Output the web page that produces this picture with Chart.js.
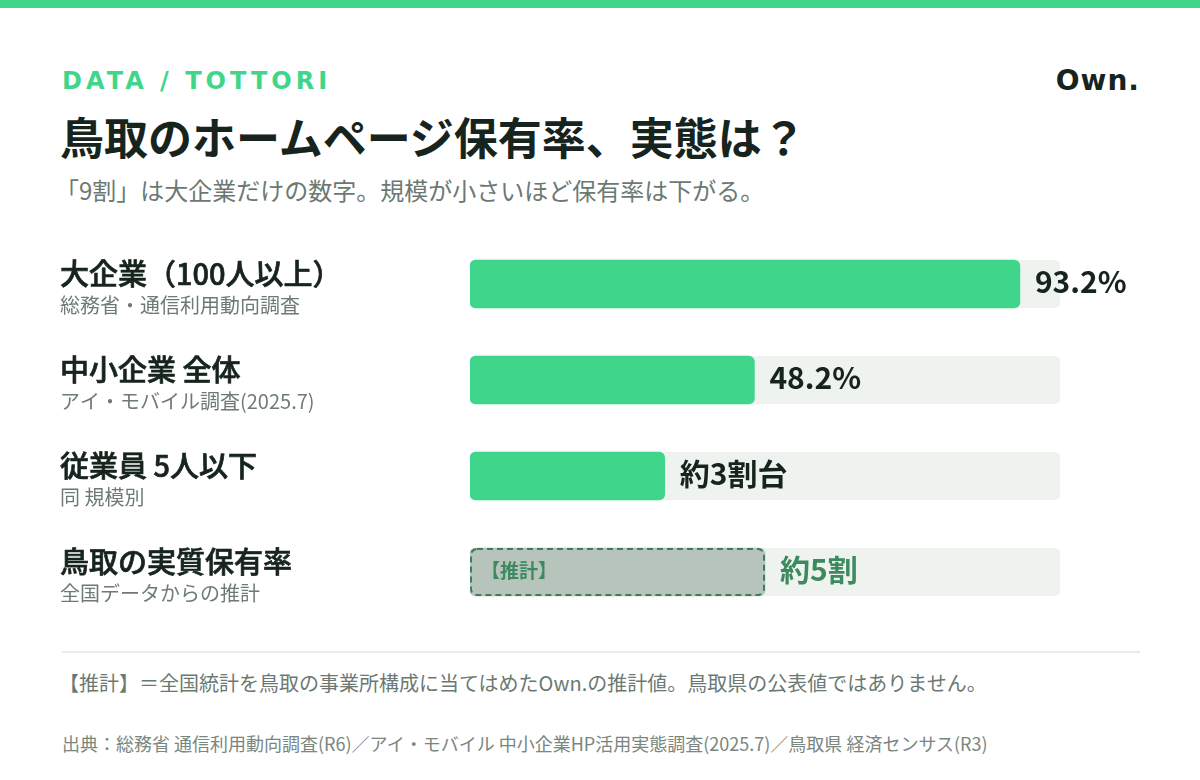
<!DOCTYPE html>
<html lang="ja">
<head>
<meta charset="utf-8">
<script src="https://cdn.jsdelivr.net/npm/chart.js@4.4.1/dist/chart.umd.min.js"></script>
<style>
  html, body { margin: 0; padding: 0; background: #fff; }
  body { width: 1200px; height: 780px; position: relative; overflow: hidden;
         font-family: "Noto Sans CJK JP", "Noto Sans", sans-serif; color: #17241d; }
  .topbar { position: absolute; left: 0; top: 0; width: 1200px; height: 8px; background: #3fd68b; }
  .kicker { position: absolute; left: 62px; top: 66px; font-family: "DejaVu Sans", sans-serif;
            font-weight: bold; font-size: 24px; letter-spacing: 4px; color: #3fd68b; line-height: 30px; }
  .brand { position: absolute; right: 60px; top: 64px; font-family: "DejaVu Sans", sans-serif;
           font-weight: bold; font-size: 28px; letter-spacing: 1px; color: #17241d; line-height: 34px; }
  h1 { position: absolute; left: 60px; top: 107px; margin: 0; font-size: 44px; font-weight: bold;
       line-height: 58px; color: #17241d; }
  .sub { position: absolute; left: 55px; top: 175px; margin: 0; font-size: 24px; line-height: 30px; color: #6b7972; }
  #wrap { position: absolute; left: 0; top: 220px; width: 1200px; height: 420px; }
  .rule { position: absolute; left: 62px; top: 651px; width: 1078px; height: 2px; background: #e8edea; }
  .note { position: absolute; left: 59px; top: 669px; font-size: 20px; line-height: 28px; color: #6b7972; }
  .src { position: absolute; left: 62px; top: 730px; font-size: 18px; line-height: 26px; color: #7a8680; }
</style>
</head>
<body>
<div class="topbar"></div>
<div class="kicker">DATA / TOTTORI</div>
<div class="brand">Own.</div>
<h1>鳥取のホームページ保有率、実態は？</h1>
<p class="sub">「9割」は大企業だけの数字。規模が小さいほど保有率は下がる。</p>
<div id="wrap"><canvas id="chart"></canvas></div>
<div class="rule"></div>
<div class="note">【推計】＝全国統計を鳥取の事業所構成に当てはめたOwn.の推計値。鳥取県の公表値ではありません。</div>
<div class="src">出典：総務省 通信利用動向調査(R6)／アイ・モバイル 中小企業HP活用実態調査(2025.7)／鳥取県 経済センサス(R3)</div>

<script>
// ---- data ----
const categories = ['大企業（100人以上）', '中小企業 全体', '従業員 5人以下', '鳥取の実質保有率'];
const sources = ['総務省・通信利用動向調査', 'アイ・モバイル調査(2025.7)', '同 規模別', '全国データからの推計'];
const rates = [93.2, 48.2, 33, 50];
const rateLabels = ['93.2%', '48.2%', '約3割台', '約5割'];
const estimated = [false, false, false, true];
const fullScale = [100, 100, 100, 100];
const estimateTag = '【推計】';

const FONT = '"Noto Sans CJK JP", "Noto Sans", sans-serif';
const MEDIUM = '"Noto Sans CJK JP Medium", "Noto Sans CJK JP", sans-serif';
const GREEN = '#3fd68b';
const TRACK = '#eef3f0';
const EST_FILL = '#b6c4bc';
const EST_LINE = '#3f7d5c';
const EST_TEXT = '#3d8a5f';
const DARK = '#17241d';
const GREY = '#6e7b74';

// labels, value text and the dashed estimate outline
const decorate = {
  id: 'decorate',
  afterDatasetsDraw(chart) {
    const ctx = chart.ctx;
    const meta = chart.getDatasetMeta(1);
    const yScale = chart.scales.y;
    ctx.save();
    meta.data.forEach((bar, i) => {
      const cy = yScale.getPixelForValue(i);

      // category + source on the left (thin stroke fakes the medium weight)
      ctx.textAlign = 'left';
      ctx.textBaseline = 'middle';
      ctx.fillStyle = DARK;
      ctx.strokeStyle = DARK;
      ctx.lineWidth = 0.7;
      ctx.font = '500 29px ' + MEDIUM;
      ctx.fillText(categories[i], 60, cy - 10);
      ctx.strokeText(categories[i], 60, cy - 10);
      ctx.fillStyle = GREY;
      ctx.font = '20px ' + FONT;
      ctx.fillText(sources[i], 60, cy + 21);

      const left = bar.base, right = bar.x;
      const top = bar.y - bar.height / 2;

      if (estimated[i]) {
        ctx.setLineDash([6, 4]);
        ctx.lineWidth = 2;
        ctx.strokeStyle = EST_LINE;
        ctx.beginPath();
        ctx.roundRect(left + 1, top + 1, right - left - 2, bar.height - 2, 6);
        ctx.stroke();
        ctx.setLineDash([]);
        ctx.fillStyle = EST_TEXT;
        ctx.font = 'bold 19px ' + FONT;
        ctx.fillText(estimateTag, left + 11, cy - 1);
      }

      ctx.fillStyle = estimated[i] ? EST_TEXT : DARK;
      ctx.font = 'bold 30px ' + FONT;
      ctx.fillText(rateLabels[i], right + 15, cy - 2);
    });
    ctx.restore();
  }
};

new Chart(document.getElementById('chart'), {
  type: 'bar',
  data: {
    labels: categories,
    datasets: [
      {
        data: fullScale,
        backgroundColor: TRACK,
        borderRadius: 6,
        borderSkipped: false,
        barThickness: 48,
        grouped: false,
        order: 2
      },
      {
        data: rates,
        backgroundColor: ctx => estimated[ctx.dataIndex] ? EST_FILL : GREEN,
        borderRadius: 6,
        borderSkipped: false,
        barThickness: 48,
        grouped: false,
        order: 1
      }
    ]
  },
  options: {
    indexAxis: 'y',
    responsive: true,
    maintainAspectRatio: false,
    animation: false,
    events: [],
    layout: { padding: { left: 470, right: 140, top: 16, bottom: 20 } },
    scales: {
      x: { display: false, min: 0, max: 100 },
      y: { display: false }
    },
    plugins: { legend: { display: false }, tooltip: { enabled: false } }
  },
  plugins: [decorate]
});
</script>
</body>
</html>
